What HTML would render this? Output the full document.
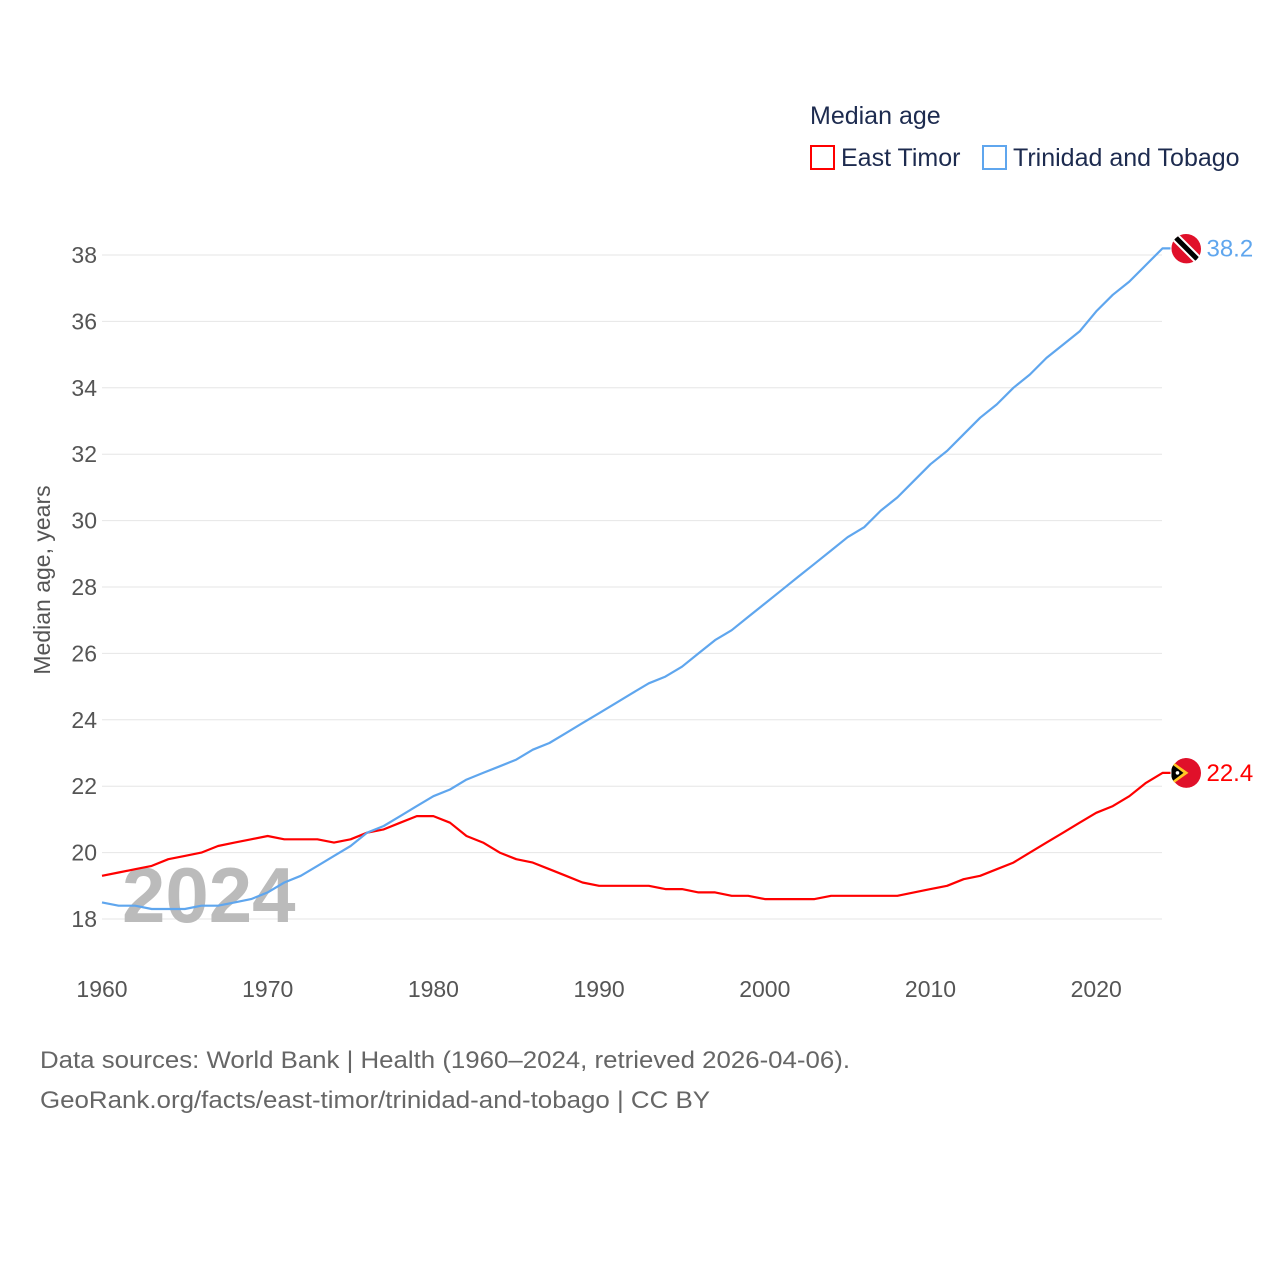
<!DOCTYPE html>
<html><head><meta charset="utf-8"><style>
body{margin:0;background:#fff;font-family:"Liberation Sans",sans-serif}
</style></head><body>
<svg width="1280" height="1280" xmlns="http://www.w3.org/2000/svg" id="chart" font-family="Liberation Sans, sans-serif">
<defs>
<clipPath id="clipT"><circle cx="1186" cy="249" r="15"/></clipPath>
<clipPath id="clipE"><circle cx="1186" cy="773" r="15"/></clipPath>
</defs>
<text x="810" y="124" font-size="25" fill="#1d2b4f">Median age</text>
<g><rect x="811" y="146" width="23" height="23" fill="none" stroke="#f00" stroke-width="2"/><text x="841" y="166" font-size="25" fill="#1d2b4f">East Timor</text></g>
<g><rect x="983" y="146" width="23" height="23" fill="none" stroke="#5fa6ee" stroke-width="2"/><text x="1013" y="166" font-size="25" fill="#1d2b4f">Trinidad and Tobago</text></g>
<g id="grid"></g>
<g id="yticks"></g>
<g id="xticks"></g>
<text x="50" y="580" font-size="23" fill="#555" transform="rotate(-90 50 580)" text-anchor="middle">Median age, years</text>
<text x="122" y="922" font-size="78" font-weight="bold" fill="#bbb">2024</text>
<g id="series"></g>
<text x="40" y="1068" font-size="24" fill="#666" textLength="810" lengthAdjust="spacingAndGlyphs">Data sources: World Bank | Health (1960–2024, retrieved 2026-04-06).</text>
<text x="40" y="1108" font-size="24" fill="#666" textLength="670" lengthAdjust="spacingAndGlyphs">GeoRank.org/facts/east-timor/trinidad-and-tobago | CC BY</text>
</svg>
<script>
const years=[];for(let y=1960;y<=2024;y++)years.push(y);
const eastTimor=[19.3,19.4,19.5,19.6,19.8,19.9,20.0,20.2,20.3,20.4,20.5,20.4,20.4,20.4,20.3,20.4,20.6,20.7,20.9,21.1,21.1,20.9,20.5,20.3,20.0,19.8,19.7,19.5,19.3,19.1,19.0,19.0,19.0,19.0,18.9,18.9,18.8,18.8,18.7,18.7,18.6,18.6,18.6,18.6,18.7,18.7,18.7,18.7,18.7,18.8,18.9,19.0,19.2,19.3,19.5,19.7,20.0,20.3,20.6,20.9,21.2,21.4,21.7,22.1,22.4];
const trinidad=[18.5,18.4,18.4,18.3,18.3,18.3,18.4,18.4,18.5,18.6,18.8,19.1,19.3,19.6,19.9,20.2,20.6,20.8,21.1,21.4,21.7,21.9,22.2,22.4,22.6,22.8,23.1,23.3,23.6,23.9,24.2,24.5,24.8,25.1,25.3,25.6,26.0,26.4,26.7,27.1,27.5,27.9,28.3,28.7,29.1,29.5,29.8,30.3,30.7,31.2,31.7,32.1,32.6,33.1,33.5,34.0,34.4,34.9,35.3,35.7,36.3,36.8,37.2,37.7,38.2];
const yTicks=[18,20,22,24,26,28,30,32,34,36,38];
const xTicks=[1960,1970,1980,1990,2000,2010,2020];
const X=y=>102+(y-1960)*16.57, Y=v=>919-(v-18)*33.2;
const NS="http://www.w3.org/2000/svg";
function mk(tag,attrs,parent){const e=document.createElementNS(NS,tag);for(const k in attrs)e.setAttribute(k,attrs[k]);(typeof parent==='string'?document.getElementById(parent):parent).appendChild(e);return e;}
yTicks.forEach(t=>{
 const l=mk('line',{x1:102,x2:1162,y1:Y(t),y2:Y(t),stroke:'#e6e6e6','stroke-width':1},'grid');
 
 
 const tx=mk('text',{x:97,y:Y(t)+8,'text-anchor':'end','font-size':23,fill:'#555'},'yticks');
 tx.textContent=t;
 
 
});
xTicks.forEach(t=>{
 const tx=mk('text',{x:X(t),y:997,'text-anchor':'middle','font-size':23,fill:'#555'},'xticks');
 tx.textContent=t;
 
 
});
function series(vals,color,name,clip){
 let d=vals.map((v,i)=>(i?'L':'M')+X(years[i]).toFixed(1)+','+Y(v).toFixed(1)).join('');
 const last=vals[vals.length-1];
 d+='L'+(X(2024)+8)+','+Y(last).toFixed(1);
 const p=mk('path',{d:d,fill:'none',stroke:color,'stroke-width':2.2,'stroke-linejoin':'round'},'series');
 
 
 const g=mk('g',{'clip-path':'url(#'+clip+')'},'series');
 
 
 mk('circle',{cx:X(2024)+24,cy:Y(last),r:15,fill:'#e0102a'},g);
 const t=mk('text',{x:X(2024)+44,y:Y(last)+8,'font-size':24,fill:color},'series');
 t.textContent=last.toFixed(1);
 
 
 return g;
}
const ge=series(eastTimor,'#f00','east-timor','clipE');
const gt=series(trinidad,'#5fa6ee','trinidad','clipT');
const cx=X(2024)+24, yt=Y(trinidad[trinidad.length-1]), ye=Y(eastTimor[eastTimor.length-1]);
mk('line',{x1:cx-14,y1:yt-14,x2:cx+14,y2:yt+14,stroke:'#fff','stroke-width':9},gt);
mk('line',{x1:cx-14,y1:yt-14,x2:cx+14,y2:yt+14,stroke:'#000','stroke-width':5},gt);
mk('path',{d:`M${cx-15},${ye-12}L${cx+2},${ye}L${cx-15},${ye+12}Z`,fill:'#ffc726'},ge);
mk('path',{d:`M${cx-15},${ye-9}L${cx-3},${ye}L${cx-15},${ye+9}Z`,fill:'#000'},ge);
mk('circle',{cx:cx-9,cy:ye,r:1.8,fill:'#fff'},ge);
</script>
</body></html>
